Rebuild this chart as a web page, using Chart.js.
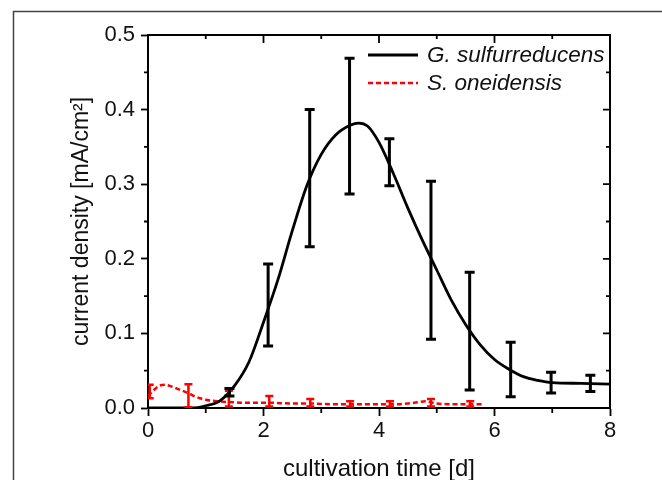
<!DOCTYPE html>
<html><head><meta charset="utf-8">
<script src="https://cdn.jsdelivr.net/npm/chart.js@4/dist/chart.umd.min.js"></script>
<style>html,body{margin:0;padding:0;background:#fff;overflow:hidden}#wrap{position:relative;width:662px;height:480px}</style>
</head><body><div id="wrap"><canvas id="c" width="662" height="480"></canvas></div>
<script>
const seriesNames = ['G. sulfurreducens', 'S. oneidensis'];
const xTicks = [0, 2, 4, 6, 8];
const xMinorTicks = [1, 3, 5, 7];
const yTicks = [0, 0.1, 0.2, 0.3, 0.4, 0.5];
const yMinorTicks = [0.05, 0.15, 0.25, 0.35, 0.45];

// G. sulfurreducens fitted curve
const gsCurveX = [0, 0.5, 0.75, 1.0, 1.25, 1.5, 1.75, 2.0, 2.25, 2.5, 2.75, 3.0, 3.25, 3.5, 3.65, 3.8, 4.0, 4.25, 4.5, 4.75, 5.0, 5.25, 5.5, 5.75, 6.0, 6.25, 6.5, 6.75, 7.0, 7.5, 8.0];
const gsCurveY = [0, 0, 0, 0.003, 0.010, 0.030, 0.062, 0.115, 0.172, 0.238, 0.298, 0.340, 0.366, 0.379, 0.382, 0.378, 0.356, 0.314, 0.268, 0.225, 0.185, 0.145, 0.112, 0.085, 0.065, 0.052, 0.042, 0.037, 0.034, 0.033, 0.032];
// G. sulfurreducens error bars
const gsErrX    = [1.41, 2.08, 2.80, 3.49, 4.18, 4.90, 5.57, 6.28, 6.98, 7.66];
const gsErrLow  = [0.016, 0.083, 0.216, 0.287, 0.298, 0.092, 0.024, 0.015, 0.020, 0.022];
const gsErrHigh = [0.026, 0.193, 0.400, 0.469, 0.361, 0.304, 0.182, 0.088, 0.048, 0.044];

// S. oneidensis curve
const soCurveX = [0, 0.1, 0.2, 0.3, 0.4, 0.5, 0.6, 0.7, 0.8, 0.9, 1.0, 1.2, 1.4, 1.7, 2.1, 2.5, 2.8, 3.2, 3.5, 3.9, 4.2, 4.5, 4.7, 4.8, 5.0, 5.3, 5.6, 5.8];
const soCurveY = [0.016, 0.024, 0.030, 0.031, 0.029, 0.026, 0.023, 0.020, 0.016, 0.013, 0.011, 0.009, 0.008, 0.007, 0.007, 0.006, 0.006, 0.005, 0.005, 0.005, 0.005, 0.006, 0.008, 0.009, 0.006, 0.005, 0.005, 0.005];
// S. oneidensis error bars
const soErrX    = [0.03, 0.70, 1.40, 2.10, 2.81, 3.50, 4.19, 4.90, 5.58];
const soErrLow  = [0.013, 0.001, 0.002, 0.002, 0.002, 0.002, 0.002, 0.002, 0.002];
const soErrHigh = [0.031, 0.032, 0.023, 0.016, 0.012, 0.009, 0.009, 0.012, 0.009];

const FONT = '"Liberation Sans", Arial, Helvetica, sans-serif';
Chart.defaults.font.family = FONT;

const framePlugin = {
  id: 'frame',
  beforeDraw(chart) {
    const c = chart.ctx;
    c.save();
    c.fillStyle = '#fff';
    c.fillRect(0, 0, chart.width, chart.height);
    c.strokeStyle = '#444';
    c.lineWidth = 1.5;
    c.beginPath();
    c.moveTo(13.5, chart.height);
    c.lineTo(13.5, 11.5);
    c.lineTo(chart.width, 11.5);
    c.stroke();
    c.restore();
  }
};

function drawErr(chart, xs, lo, hi, color, lw, half) {
  const c = chart.ctx, sx = chart.scales.x, sy = chart.scales.y;
  c.strokeStyle = color;
  c.lineWidth = lw;
  c.lineCap = 'butt';
  for (let i = 0; i < xs.length; i++) {
    const px = sx.getPixelForValue(xs[i]);
    const p1 = sy.getPixelForValue(lo[i]);
    const p2 = sy.getPixelForValue(hi[i]);
    c.beginPath();
    c.moveTo(px, p1); c.lineTo(px, p2);
    c.moveTo(px - half, p1); c.lineTo(px + half, p1);
    c.moveTo(px - half, p2); c.lineTo(px + half, p2);
    c.stroke();
  }
}

const errorBarPlugin = {
  id: 'errorBars',
  afterDatasetsDraw(chart) {
    const c = chart.ctx, a = chart.chartArea;
    c.save();
    c.beginPath();
    c.rect(a.left, a.top, a.right - a.left, a.bottom - a.top);
    c.clip();
    drawErr(chart, soErrX, soErrLow, soErrHigh, '#ff0000', 2.5, 4);
    drawErr(chart, gsErrX, gsErrLow, gsErrHigh, '#000', 3, 5);
    c.restore();
  }
};

const axesPlugin = {
  id: 'axesExtra',
  afterDraw(chart) {
    const c = chart.ctx, a = chart.chartArea, sx = chart.scales.x, sy = chart.scales.y;
    c.save();
    c.strokeStyle = '#000';
    c.lineWidth = 2;
    c.beginPath();
    c.moveTo(a.left, a.top); c.lineTo(a.right, a.top); c.lineTo(a.right, a.bottom);
    c.stroke();
    c.lineWidth = 1.8;
    c.beginPath();
    xTicks.forEach(v => { const p = sx.getPixelForValue(v); c.moveTo(p, a.top); c.lineTo(p, a.top + 8); });
    xMinorTicks.forEach(v => { const p = sx.getPixelForValue(v);
      c.moveTo(p, a.top); c.lineTo(p, a.top + 4);
      c.moveTo(p, a.bottom); c.lineTo(p, a.bottom + 5); });
    yTicks.forEach(v => { const p = sy.getPixelForValue(v); c.moveTo(a.right, p); c.lineTo(a.right - 7, p); });
    yMinorTicks.forEach(v => { const p = sy.getPixelForValue(v);
      c.moveTo(a.right, p); c.lineTo(a.right - 4, p);
      c.moveTo(a.left, p); c.lineTo(a.left - 4, p); });
    c.stroke();
    c.restore();
  }
};

const legendPlugin = {
  id: 'customLegend',
  afterDraw(chart) {
    const c = chart.ctx, a = chart.chartArea;
    const x0 = a.left + 220, x1 = a.left + 270, tx = a.left + 279;
    const rows = [a.top + 20, a.top + 48];
    c.save();
    chart.data.datasets.forEach((ds, i) => {
      const y = rows[i];
      c.strokeStyle = ds.borderColor;
      c.lineWidth = ds.borderWidth;
      c.setLineDash(ds.borderDash || []);
      c.beginPath(); c.moveTo(x0, y); c.lineTo(x1, y); c.stroke();
      c.setLineDash([]);
      c.fillStyle = '#111';
      c.font = 'italic 22.5px ' + FONT;
      c.textBaseline = 'middle';
      c.textAlign = 'left';
      c.fillText(ds.label, tx, y + 1);
    });
    c.restore();
  }
};

new Chart(document.getElementById('c'), {
  type: 'scatter',
  data: {
    datasets: [
      { label: seriesNames[0], data: gsCurveX.map((x, i) => ({ x, y: gsCurveY[i] })),
        showLine: true, borderColor: '#000', borderWidth: 2.8, pointRadius: 0,
        cubicInterpolationMode: 'monotone', fill: false },
      { label: seriesNames[1], data: soCurveX.map((x, i) => ({ x, y: soCurveY[i] })),
        showLine: true, borderColor: '#ff0000', borderWidth: 2.5, borderDash: [5, 3], pointRadius: 0,
        cubicInterpolationMode: 'monotone', fill: false }
    ]
  },
  options: {
    responsive: false, animation: false, devicePixelRatio: 1,
    layout: { padding: { left: 0, top: 35, right: 52, bottom: 0 } },
    plugins: { legend: { display: false }, tooltip: { enabled: false } },
    scales: {
      x: {
        type: 'linear', min: 0, max: 8,
        afterBuildTicks: s => { s.ticks = xTicks.map(v => ({ value: v })); },
        ticks: { font: { size: 22 }, color: '#111', padding: 2, maxRotation: 0, callback: v => String(v) },
        grid: { drawOnChartArea: false, drawTicks: true, tickLength: 8, tickColor: '#000', tickWidth: 1.8 },
        border: { display: true, color: '#000', width: 2 },
        title: { display: true, text: 'cultivation time [d]', color: '#111',
                 font: { size: 24, lineHeight: 0.85 }, padding: { top: 0, bottom: 0 } },
        afterFit: s => { s.height = 72; }
      },
      y: {
        type: 'linear', min: 0, max: 0.5,
        afterBuildTicks: s => { s.ticks = yTicks.map(v => ({ value: v })); },
        ticks: { font: { size: 22 }, color: '#111', padding: 6, callback: v => Number(v).toFixed(1) },
        grid: { drawOnChartArea: false, drawTicks: true, tickLength: 7, tickColor: '#000', tickWidth: 1.8 },
        border: { display: true, color: '#000', width: 2 },
        title: { display: true, text: 'current density [mA/cm²]', color: '#111',
                 font: { size: 23 }, padding: { top: 68, bottom: 0 } },
        afterFit: s => { s.width = 148; }
      }
    }
  },
  plugins: [framePlugin, errorBarPlugin, axesPlugin, legendPlugin]
});
</script></body></html>
